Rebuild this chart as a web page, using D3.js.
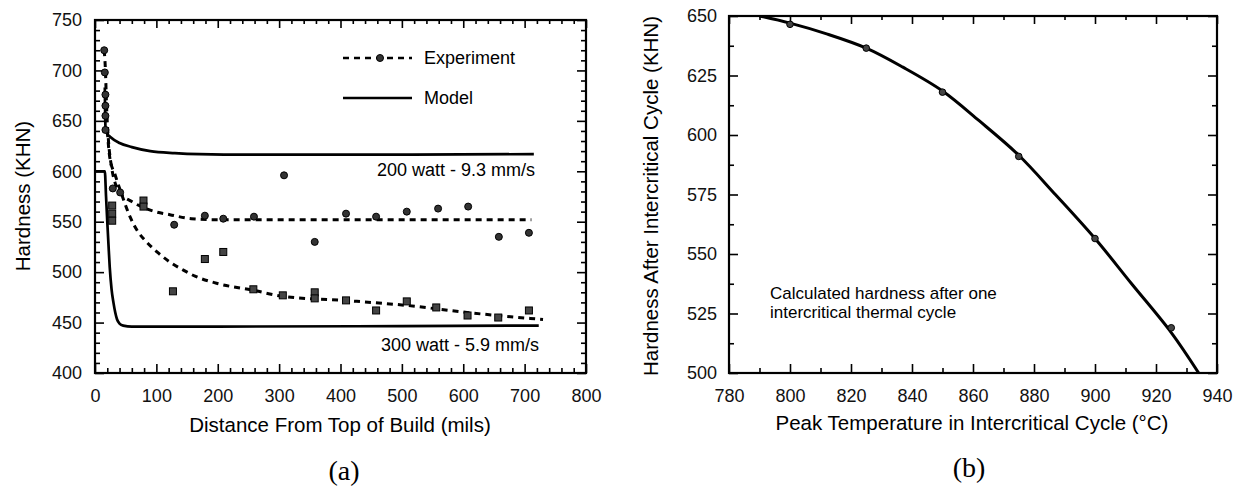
<!DOCTYPE html>
<html>
<head>
<meta charset="utf-8">
<script src="https://cdn.jsdelivr.net/npm/d3@7"></script>
<style>
  body { margin: 0; background: #fff; }
  svg { display: block; font-family: "Liberation Sans", Arial, sans-serif; }
  .tick line { stroke: #000; stroke-width: 1.6; }
  .tick text { fill: #111; font-size: 18px; }
</style>
</head>
<body>
<svg id="chart" width="1234" height="488"></svg>
<script>
// ---- panel (a) data ----
let distTicks = [0, 100, 200, 300, 400, 500, 600, 700, 800];
let hardTicks = [400, 450, 500, 550, 600, 650, 700, 750];

// experiment, 200 watt (circles)
let exp200 = [[15,720],[16,698],[17,676],[17,665],[17,655],[17,641],[29,583],[41,579],
  [129,547],[179,556],[209,553],[259,555],[308,596],[358,530],[409,558],[458,555],
  [508,560],[559,563],[608,565],[658,535],[707,539]];
// experiment, 300 watt (squares)
let exp300 = [[28,566],[28,558],[28,551],[79,571],[79,565],[127,481],[179,513],[209,520],
  [258,483],[306,477],[358,480],[358,474],[409,472],[458,462],[508,471],[556,465],
  [607,457],[657,455],[707,462]];
// dashed fits through the experiment points
let fit200 = [[15,720],[17,700],[19,662],[22,630],[27,604],[33,588],[42,578],[60,570],
  [98,560],[122,557],[157,553],[200,552],[300,552],[500,552],[711,552]];
let fit300 = [[20,640],[24,614],[33,596],[43,578],[57,555],[68,542],[84,530],[103,519],
  [122,510],[144,502],[163,496],[198,489],[258,482],[306,476],[404,472],[508,467],
  [606,460],[730,453]];
// model curves
let model200 = [[16,683],[17,645],[19,638],[25,634],[40,628],[60,624],[90,620],[130,618],
  [170,617],[250,616.5],[400,616.5],[715,617]];
let model300 = [[0,600],[16,600],[18,575],[20,550],[22,527],[24,505],[27,483],[30,470],
  [33,460],[36,453],[40,449],[46,447],[60,446],[200,446],[500,446.5],[723,447]];

// ---- panel (b) data ----
let tempTicks = [780, 800, 820, 840, 860, 880, 900, 920, 940];
let hardTicksB = [500, 525, 550, 575, 600, 625, 650];
let calcPts = [[800,646.5],[825,636.5],[850,618],[875,591],[900,556.5],[925,519]];
let calcCurve = [[790,650],[800,647],[812,642.5],[825,636.5],[837,628.5],[850,618.5],
  [862,606],[875,591.5],[887,575],[900,556.5],[912,537.5],[925,517],[934,500]];

let svg = d3.select("#chart");
svg.append("rect").attr("width", 1234).attr("height", 488).style("fill", "#fff");

let xA = d3.scaleLinear().domain([0, 800]).range([95, 586]);
let yA = d3.scaleLinear().domain([400, 750]).range([373, 20]);
let xB = d3.scaleLinear().domain([780, 940]).range([729, 1217]);
let yB = d3.scaleLinear().domain([500, 650]).range([373, 16]);

function minors(ticks, n) {
  let out = [];
  for (let i = 0; i < ticks.length - 1; i++) {
    let step = (ticks[i + 1] - ticks[i]) / n;
    for (let k = 1; k < n; k++) out.push(ticks[i] + k * step);
  }
  return out;
}

function frame(x, y, xMaj, xMin, yMaj, yMin, yPad) {
  let x0 = x.range()[0], x1 = x.range()[1];
  let y0 = y.range()[0], y1 = y.range()[1];
  let g = svg.append("g");
  let axes = [
    [d3.axisBottom(x).tickValues(xMaj).tickSize(-9).tickPadding(16), "translate(0," + y0 + ")"],
    [d3.axisBottom(x).tickValues(xMin).tickSize(-5).tickFormat(""), "translate(0," + y0 + ")"],
    [d3.axisTop(x).tickValues(xMaj).tickSize(-8).tickFormat(""), "translate(0," + y1 + ")"],
    [d3.axisTop(x).tickValues(xMin).tickSize(-4).tickFormat(""), "translate(0," + y1 + ")"],
    [d3.axisLeft(y).tickValues(yMaj).tickSize(-9).tickPadding(yPad), "translate(" + x0 + ",0)"],
    [d3.axisLeft(y).tickValues(yMin).tickSize(-5).tickFormat(""), "translate(" + x0 + ",0)"],
    [d3.axisRight(y).tickValues(yMaj).tickSize(-9).tickFormat(""), "translate(" + x1 + ",0)"],
    [d3.axisRight(y).tickValues(yMin).tickSize(-5).tickFormat(""), "translate(" + x1 + ",0)"]
  ];
  axes.forEach(function(a) {
    let ax = g.append("g").attr("transform", a[1]).call(a[0]);
    ax.select(".domain").remove();
    ax.selectAll("text").style("font-family", "Liberation Sans, Arial, sans-serif");
  });
  g.append("rect")
    .attr("x", x0).attr("y", y1)
    .attr("width", x1 - x0).attr("height", y0 - y1)
    .style("fill", "none").style("stroke", "#000").style("stroke-width", 2.2);
  return g;
}

frame(xA, yA, distTicks, minors(distTicks, 5), hardTicks, minors(hardTicks, 5), 13);
frame(xB, yB, tempTicks, minors(tempTicks, 2), hardTicksB, minors(hardTicksB, 2), 12);

// clip paths
let defs = svg.append("defs");
defs.append("clipPath").attr("id", "clipA").append("rect")
  .attr("x", 95).attr("y", 20).attr("width", 491).attr("height", 353);
defs.append("clipPath").attr("id", "clipB").append("rect")
  .attr("x", 729).attr("y", 16).attr("width", 488).attr("height", 357);

// ---- panel (a) marks ----
let lineA = d3.line()
  .x(function(d) { return xA(d[0]); })
  .y(function(d) { return yA(d[1]); })
  .curve(d3.curveMonotoneX);

let plotA = svg.append("g").attr("clip-path", "url(#clipA)");
[model200, model300].forEach(function(m) {
  plotA.append("path").attr("d", lineA(m))
    .style("fill", "none").style("stroke", "#000").style("stroke-width", 2.7);
});
[fit200, fit300].forEach(function(f) {
  plotA.append("path").attr("d", lineA(f))
    .style("fill", "none").style("stroke", "#000").style("stroke-width", 3)
    .style("stroke-dasharray", "6,5");
});
plotA.selectAll(".pt200").data(exp200).enter().append("circle")
  .attr("cx", function(d) { return xA(d[0]); })
  .attr("cy", function(d) { return yA(d[1]); })
  .attr("r", 3.5)
  .style("fill", "#333").style("stroke", "#000").style("stroke-width", 1);
plotA.selectAll(".pt300").data(exp300).enter().append("rect")
  .attr("x", function(d) { return xA(d[0]) - 3.5; })
  .attr("y", function(d) { return yA(d[1]) - 3.5; })
  .attr("width", 7).attr("height", 7)
  .style("fill", "#444").style("stroke", "#000").style("stroke-width", 1);

// legend
let leg = svg.append("g");
leg.append("line").attr("x1", 343).attr("x2", 412).attr("y1", 58).attr("y2", 58)
  .style("stroke", "#000").style("stroke-width", 2.5).style("stroke-dasharray", "6,5");
leg.append("circle").attr("cx", 380).attr("cy", 58).attr("r", 3.5).style("fill", "#333").style("stroke", "#000");
leg.append("line").attr("x1", 343).attr("x2", 412).attr("y1", 98).attr("y2", 98)
  .style("stroke", "#000").style("stroke-width", 2.5);
leg.append("text").attr("x", 424).attr("y", 58).attr("dy", "0.35em").style("font-size", "18px").text("Experiment");
leg.append("text").attr("x", 424).attr("y", 98).attr("dy", "0.35em").style("font-size", "18px").text("Model");

svg.append("text").attr("x", 535).attr("y", 170).attr("dy", "0.35em")
  .attr("text-anchor", "end").style("font-size", "18px").text("200 watt - 9.3 mm/s");
svg.append("text").attr("x", 539).attr("y", 345).attr("dy", "0.35em")
  .attr("text-anchor", "end").style("font-size", "18px").text("300 watt - 5.9 mm/s");

// axis titles (a)
svg.append("text").attr("x", 340).attr("y", 425).attr("dy", "0.35em")
  .attr("text-anchor", "middle").style("font-size", "20.5px").text("Distance From Top of Build (mils)");
svg.append("g").attr("transform", "translate(23,196) rotate(-90)")
  .append("text").attr("dy", "0.35em").attr("text-anchor", "middle")
  .style("font-size", "20.5px").text("Hardness (KHN)");
svg.append("text").attr("x", 344).attr("y", 470).attr("dy", "0.35em")
  .attr("text-anchor", "middle").style("font-family", "Liberation Serif, Times New Roman, serif")
  .style("font-size", "28px").text("(a)");

// ---- panel (b) marks ----
let lineB = d3.line()
  .x(function(d) { return xB(d[0]); })
  .y(function(d) { return yB(d[1]); })
  .curve(d3.curveCatmullRom);
let plotB = svg.append("g").attr("clip-path", "url(#clipB)");
plotB.append("path").attr("d", lineB(calcCurve))
  .style("fill", "none").style("stroke", "#000").style("stroke-width", 3);
plotB.selectAll(".ptB").data(calcPts).enter().append("circle")
  .attr("cx", function(d) { return xB(d[0]); })
  .attr("cy", function(d) { return yB(d[1]); })
  .attr("r", 3.3)
  .style("fill", "#444").style("stroke", "#000").style("stroke-width", 1);

svg.append("text").attr("x", 770).attr("y", 293).attr("dy", "0.35em")
  .style("font-size", "17px").text("Calculated hardness after one");
svg.append("text").attr("x", 770).attr("y", 312).attr("dy", "0.35em")
  .style("font-size", "17px").text("intercritical thermal cycle");

svg.append("text").attr("x", 972).attr("y", 423).attr("dy", "0.35em")
  .attr("text-anchor", "middle").style("font-size", "20.5px").text("Peak Temperature in Intercritical Cycle (°C)");
svg.append("g").attr("transform", "translate(651,196) rotate(-90)")
  .append("text").attr("dy", "0.35em").attr("text-anchor", "middle")
  .style("font-size", "20.5px").text("Hardness After Intercritical Cycle (KHN)");
svg.append("text").attr("x", 969).attr("y", 467).attr("dy", "0.35em")
  .attr("text-anchor", "middle").style("font-family", "Liberation Serif, Times New Roman, serif")
  .style("font-size", "28px").text("(b)");
</script>
</body>
</html>
